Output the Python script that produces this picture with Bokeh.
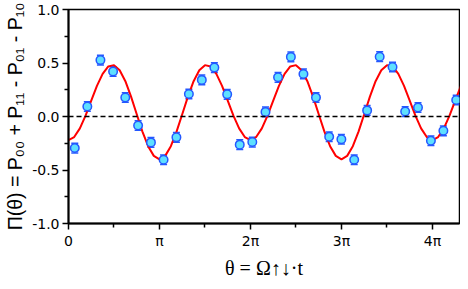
import numpy as np
from bokeh.plotting import figure
from bokeh.models import ColumnDataSource, FixedTicker, Span, Whisker, TeeHead
from bokeh.embed import file_html
from bokeh.resources import INLINE

# measured data points (theta in units of pi)
theta_over_pi = [0.069, 0.207, 0.351, 0.490, 0.624, 0.765, 0.906, 1.045, 1.186, 1.323,
                 1.465, 1.603, 1.744, 1.882, 2.020, 2.165, 2.303, 2.444, 2.582, 2.720,
                 2.865, 2.999, 3.140, 3.282, 3.420, 3.561, 3.700, 3.841, 3.983, 4.120, 4.261]
parity = [-0.295, 0.093, 0.527, 0.421, 0.178, -0.084, -0.242, -0.404, -0.195, 0.210,
          0.342, 0.457, 0.207, -0.263, -0.239, 0.043, 0.366, 0.557, 0.398, 0.178,
          -0.189, -0.213, -0.404, 0.057, 0.559, 0.463, 0.046, 0.084, -0.227, -0.134, 0.154]
errors = [0.045, 0.045, 0.045, 0.045, 0.045, 0.045, 0.045, 0.045, 0.045, 0.045,
          0.045, 0.045, 0.045, 0.045, 0.045, 0.045, 0.045, 0.045, 0.045, 0.045,
          0.045, 0.045, 0.045, 0.045, 0.045, 0.045, 0.045, 0.045, 0.045, 0.045, 0.045]

fit_values = [-0.220, -0.192, -0.111, 0.009, 0.149, 0.286, 0.398, 0.468, 0.480, 0.432,
              0.330, 0.186, 0.021, -0.141, -0.277, -0.368, -0.400, -0.368, -0.277, -0.141,
              0.021, 0.186, 0.330, 0.432, 0.480, 0.468, 0.398, 0.286, 0.149, 0.009,
              -0.111, -0.192,
              -0.220, -0.192, -0.111, 0.009, 0.149, 0.286, 0.398, 0.468, 0.480, 0.432,
              0.330, 0.186, 0.021, -0.141, -0.277, -0.368, -0.400, -0.368, -0.277, -0.141,
              0.021, 0.186, 0.330, 0.432, 0.480, 0.468, 0.398, 0.286, 0.149, 0.009,
              -0.111, -0.192,
              -0.220, -0.192, -0.111, 0.009, 0.149, 0.286]
fit_step_over_pi = 1.0 / 16

x_tick_labels = ["0", "π", "2π", "3π", "4π"]
y_tick_values = [-1.0, -0.5, 0.0, 0.5, 1.0]
y_tick_labels = ["-1.0", "-0.5", "0.0", "0.5", "1.0"]
x_label = "θ = Ω↑↓·t"
y_label = "Π(θ) = P₀₀ + P₁₁ - P₀₁ - P₁₀"

theta = np.array(theta_over_pi) * np.pi
par = np.array(parity)
err = np.array(errors)
fit_theta = np.arange(len(fit_values)) * fit_step_over_pi * np.pi

p = figure(width=460, height=281, x_range=(0, 13.5), y_range=(-1, 1),
           output_backend="svg", toolbar_location=None,
           min_border_left=68, min_border_right=1, min_border_top=9, min_border_bottom=45)
p.background_fill_color = "white"
p.border_fill_color = "white"
p.xgrid.visible = False
p.ygrid.visible = False
p.outline_line_color = "black"
p.outline_line_width = 1.5

xt = [k * np.pi for k in range(len(x_tick_labels))]
p.xaxis.ticker = FixedTicker(ticks=xt, minor_ticks=[(k + 0.5) * np.pi for k in range(len(x_tick_labels))])
p.xaxis.major_label_overrides = {t: s for t, s in zip(xt, x_tick_labels)}
p.yaxis.ticker = FixedTicker(ticks=y_tick_values, minor_ticks=[-0.75, -0.25, 0.25, 0.75])
p.yaxis.major_label_overrides = {t: s for t, s in zip(y_tick_values, y_tick_labels)}

for ax in (p.xaxis[0], p.yaxis[0]):
    ax.axis_line_width = 2
    ax.axis_line_color = "black"
    ax.major_tick_line_color = "black"
    ax.major_tick_line_width = 1.5
    ax.minor_tick_line_color = "black"
    ax.minor_tick_line_width = 1.5
    ax.major_tick_out = 6
    ax.major_tick_in = 0
    ax.minor_tick_out = 4
    ax.minor_tick_in = 0
    ax.major_label_text_font = "DejaVu Sans"
    ax.major_label_text_font_size = "14px"
    ax.major_label_text_color = "black"
    ax.major_label_standoff = 3
    ax.axis_label_text_font_style = "normal"
    ax.axis_label_text_color = "black"

p.xaxis.axis_label = x_label
p.xaxis.axis_label_text_font = "Liberation Serif"
p.xaxis.axis_label_text_font_size = "20px"
p.xaxis.axis_label_standoff = 5

p.yaxis.axis_label = y_label
p.yaxis.axis_label_text_font = "Liberation Sans"
p.yaxis.axis_label_text_font_size = "19.5px"
p.yaxis.axis_label_standoff = 3

# zero line
p.add_layout(Span(location=0, dimension="width", line_color="black",
                  line_dash="5 3", line_width=1.4))

# fit curve
p.line(fit_theta, fit_values, line_color="#ff0000", line_width=2)

# error bars + markers
src = ColumnDataSource(dict(x=theta, y=par, lo=par - err, hi=par + err))
wk = Whisker(source=src, base="x", upper="hi", lower="lo",
             line_color="#2458ff", line_width=1.5,
             upper_head=TeeHead(size=7, line_color="#2458ff", line_width=1.5),
             lower_head=TeeHead(size=7, line_color="#2458ff", line_width=1.5))
p.add_layout(wk)
p.scatter("x", "y", source=src, size=8.5, fill_color="#5ee0ff",
          line_color="#2458ff", line_width=1.5)

open("out.html", "w").write(file_html(p, INLINE))
